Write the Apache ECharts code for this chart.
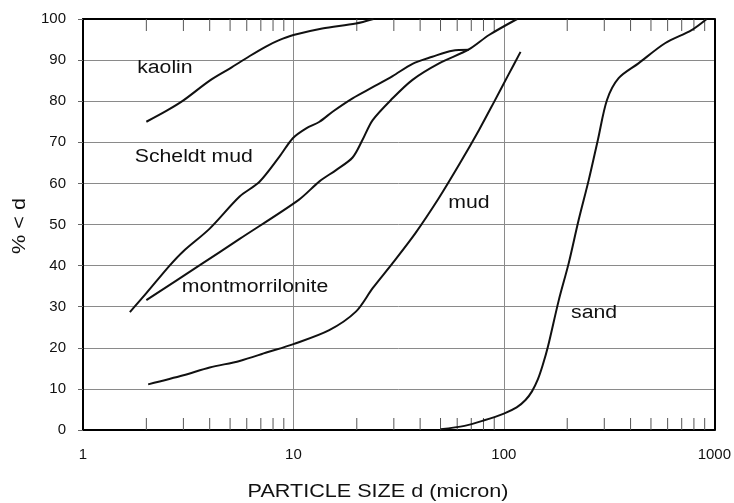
<!DOCTYPE html>
<html><head><meta charset="utf-8">
<script src="https://cdn.jsdelivr.net/npm/echarts@6/dist/echarts.min.js"></script>
<style>html,body{margin:0;padding:0;background:#fff}#c{width:734px;height:503px}</style>
</head><body><div id="c"></div>
<script>
// ---- data (particle size in micron, % finer than d) ----
const kaolinX = [2, 2.5, 3, 4, 5, 6.2, 7.4, 8.5, 10, 13.7, 19.8, 24];
const kaolinY = [75, 77.7, 80.2, 85, 88, 91, 93.3, 94.8, 96.1, 97.7, 98.9, 100];

const scheldtX = [1.67, 2, 2.58, 3, 4, 5.55, 6.9, 8.58, 9.93, 11.5, 13.3, 15.4, 19.1, 23.8, 29.6, 36.8, 45.7, 56.9, 68.2];
const scheldtY = [28.7, 33.3, 40, 43.5, 49, 56.8, 60.4, 66.5, 71, 73.4, 75, 77.5, 80.7, 83.4, 86.1, 89.1, 90.8, 92.3, 92.5];

const montX = [2, 3.59, 5.55, 10.6, 13.3, 16, 19.1, 21.3, 23.8, 29.6, 36.8, 49.2, 68.2, 85, 115.6];
const montY = [31.6, 40.1, 46.5, 56, 60.5, 63.3, 66.3, 70.6, 75.4, 80.7, 85.2, 89.2, 92.6, 96.1, 100];

const mudX = [2.04, 3, 4, 5.55, 7.5, 10, 14.8, 19.8, 23.8, 29.6, 38, 49.2, 62, 76.2, 90, 105, 120];
const mudY = [11.1, 13.3, 15.2, 16.8, 18.9, 20.9, 24.3, 28.8, 34.5, 40.6, 47.9, 56.5, 65, 73, 79.9, 86.4, 92];

const sandX = [50, 65, 80, 100, 115, 126.7, 136, 145, 153, 162, 182.4, 203.3, 226.6, 253, 280, 309, 351, 436, 583, 780, 920];
const sandY = [0.2, 1, 2.3, 4, 5.5, 7.3, 9.4, 12.3, 15.8, 20.3, 31.6, 40.6, 51.1, 60.8, 70.7, 80.3, 85.6, 89.2, 94.1, 97.3, 100];

const minorTicks = [2,3,4,5,6,7,8,9,20,30,40,50,60,70,80,90,200,300,400,500,600,700,800,900];

const labelNames = ['kaolin', 'Scheldt mud', 'montmorrilonite', 'mud', 'sand'];
const labelX = [2.45, 3.36, 6.57, 68.2, 268.5];
const labelY = [88.1, 66.4, 34.9, 55.2, 28.5];

const xTitle = 'PARTICLE SIZE d (micron)';
const yTitle = '% < d';

// ---- chart ----
const FONT = '"Liberation Sans", Arial, Helvetica, sans-serif';
const chart = echarts.init(document.getElementById('c'), null, {renderer: 'canvas'});
const zip = (xs, ys) => xs.map((x, i) => [x, ys[i]]);
const lineSeries = (name, xs, ys) => ({
  name, type: 'line', data: zip(xs, ys), smooth: 0.3,
  showSymbol: false, symbol: 'none', z: 5,
  lineStyle: {color: '#111', width: 2}
});

chart.setOption({
  animation: false,
  backgroundColor: '#fff',
  grid: {left: 83, right: 17, top: 19, bottom: 73},
  xAxis: [{
    type: 'log', logBase: 10, min: 1, max: 1000,
    axisLine: {show: true, onZero: false, lineStyle: {color: '#000', width: 2}},
    axisTick: {show: false},
    axisLabel: {fontSize: 15, color: '#111', margin: 17, fontFamily: FONT, formatter: v => String(Math.round(v))},
    splitLine: {show: true, lineStyle: {color: '#8a8a8a', width: 1}}
  }, {
    type: 'log', logBase: 10, min: 1, max: 1000, position: 'top',
    axisLine: {show: true, onZero: false, lineStyle: {color: '#000', width: 2}},
    axisTick: {show: false}, axisLabel: {show: false}, splitLine: {show: false}
  }],
  yAxis: [{
    type: 'value', min: 0, max: 100, interval: 10,
    axisLine: {show: true, onZero: false, lineStyle: {color: '#000', width: 2}},
    axisTick: {show: true, length: 5, lineStyle: {color: '#666'}},
    axisLabel: {fontSize: 15, color: '#111', margin: 17, fontFamily: FONT},
    splitLine: {show: true, lineStyle: {color: '#8a8a8a', width: 1}}
  }, {
    type: 'value', min: 0, max: 100, interval: 10, position: 'right',
    axisLine: {show: true, onZero: false, lineStyle: {color: '#000', width: 2}},
    axisTick: {show: false}, axisLabel: {show: false}, splitLine: {show: false}
  }],
  series: [
    lineSeries('kaolin', kaolinX, kaolinY),
    lineSeries('Scheldt mud', scheldtX, scheldtY),
    lineSeries('montmorrilonite', montX, montY),
    lineSeries('mud', mudX, mudY),
    lineSeries('sand', sandX, sandY),
    {
      type: 'custom', xAxisIndex: 0, yAxisIndex: 0, silent: true, z: 4,
      data: minorTicks.map(v => [v, 0]), encode: {x: 0, y: 1},
      renderItem: (params, api) => {
        const v = api.value(0);
        const b = api.coord([v, 0]);
        const t = api.coord([v, 100]);
        const st = {stroke: '#555', lineWidth: 1};
        return {type: 'group', children: [
          {type: 'line', shape: {x1: b[0], y1: b[1], x2: b[0], y2: b[1] - 12}, style: st},
          {type: 'line', shape: {x1: t[0], y1: t[1], x2: t[0], y2: t[1] + 12}, style: st}
        ]};
      }
    }
  ]
});

// text annotations anchored in data coordinates
const SX = 1.18;
const graphics = labelNames.map((txt, i) => {
  const p = chart.convertToPixel({xAxisIndex: 0, yAxisIndex: 0}, [labelX[i], labelY[i]]);
  return {type: 'text', x: p[0], y: p[1], scaleX: SX, z: 10,
    style: {text: txt, fontSize: 18, fontFamily: FONT, fill: '#111', align: 'center', verticalAlign: 'middle'}};
});
graphics.push({type: 'text', x: 378, y: 492, scaleX: 1.2, z: 10,
  style: {text: xTitle, fontSize: 18, fontFamily: FONT, fill: '#111', align: 'center', verticalAlign: 'middle'}});
graphics.push({type: 'text', x: 20, y: 226, rotation: Math.PI / 2, scaleX: 1.2, z: 10,
  style: {text: yTitle, fontSize: 18, fontFamily: FONT, fill: '#111', align: 'center', verticalAlign: 'middle'}});
chart.setOption({graphic: graphics});
</script>
</body></html>
